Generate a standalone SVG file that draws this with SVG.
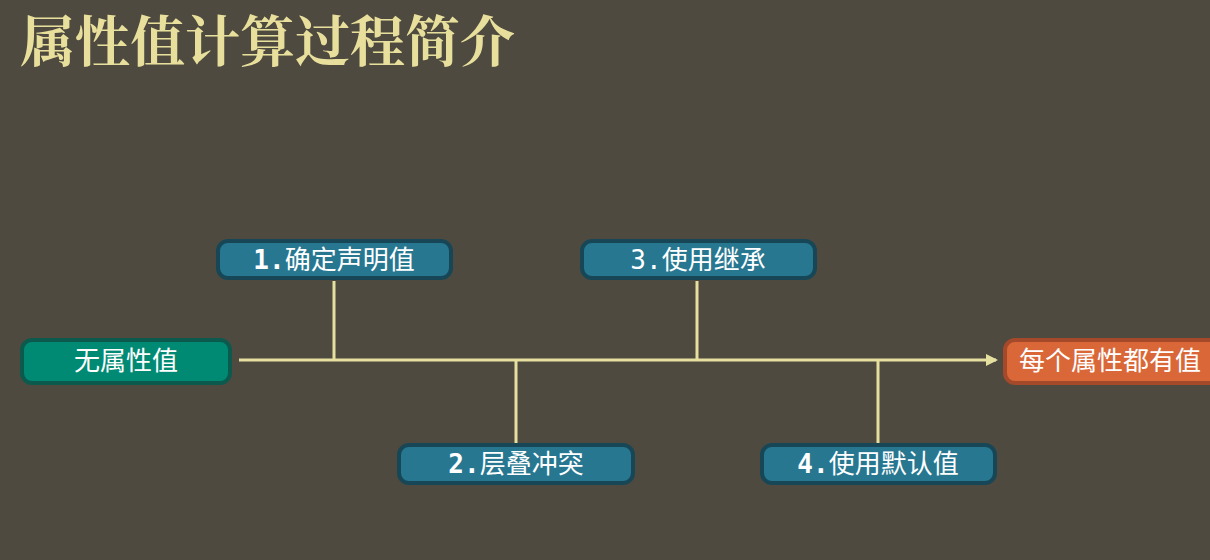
<svg xmlns="http://www.w3.org/2000/svg" width="1210" height="560" viewBox="0 0 1210 560">
<defs>
<style>
.bg{fill:#4e4a3f}
.title{font-family:"Noto Serif CJK SC","Liberation Serif","Noto Sans CJK SC",serif;font-size:55px;font-weight:bold;fill:#e8df9c}
.step rect{fill:#277791;stroke:#174756;stroke-width:4}
.lbl{font-family:"DejaVu Sans Mono","Noto Sans CJK SC",monospace;font-size:26px;fill:#ffffff;text-anchor:middle}
.num{font-weight:bold}
.start rect{fill:#008a74;stroke:#0c5a4e;stroke-width:4}
.end rect{fill:#da6738;stroke:#a44a2a;stroke-width:4}
.big{font-family:"Noto Sans CJK SC",sans-serif;font-size:26px;fill:#ffffff;text-anchor:middle}
.conn line{stroke:#e6e0a0;stroke-width:3}
</style>
<marker id="arr" markerWidth="12" markerHeight="12" refX="10" refY="6" orient="auto" markerUnits="userSpaceOnUse" viewBox="0 0 12 12">
<path d="M0,0 L12,6 L0,12 z" fill="#e6e0a0"/>
</marker>
</defs>
<rect class="bg" x="0" y="0" width="1210" height="560"/>
<text class="title" x="20" y="61" textLength="495" lengthAdjust="spacing">属性值计算过程简介</text>
<g class="conn" id="connectors">
<line x1="239" y1="360" x2="996" y2="360" marker-end="url(#arr)"/>
<line x1="334" y1="281" x2="334" y2="360"/>
<line x1="697" y1="281" x2="697" y2="360"/>
<line x1="516" y1="360" x2="516" y2="443"/>
<line x1="878" y1="360" x2="878" y2="443"/>
</g>
<g id="start" class="start">
<rect x="22" y="340" width="208" height="43" rx="10"/>
<text class="big" x="126" y="370">无属性值</text>
</g>
<g id="end" class="end">
<rect x="1005" y="340" width="215" height="43" rx="10"/>
<text class="big" x="1110" y="370">每个属性都有值</text>
</g>
<g id="step1" class="step">
<rect x="218" y="241" width="233" height="37" rx="10"/>
<text class="lbl" x="334" y="269"><tspan class="num">1.</tspan>确定声明值</text>
</g>
<g id="step3" class="step">
<rect x="582" y="241" width="233" height="37" rx="10"/>
<text class="lbl" x="698" y="269"><tspan>3.</tspan>使用继承</text>
</g>
<g id="step2" class="step">
<rect x="399" y="445" width="234" height="38" rx="10"/>
<text class="lbl" x="516" y="473"><tspan class="num">2.</tspan>层叠冲突</text>
</g>
<g id="step4" class="step">
<rect x="762" y="445" width="233" height="38" rx="10"/>
<text class="lbl" x="878" y="473"><tspan class="num">4.</tspan>使用默认值</text>
</g>
</svg>
